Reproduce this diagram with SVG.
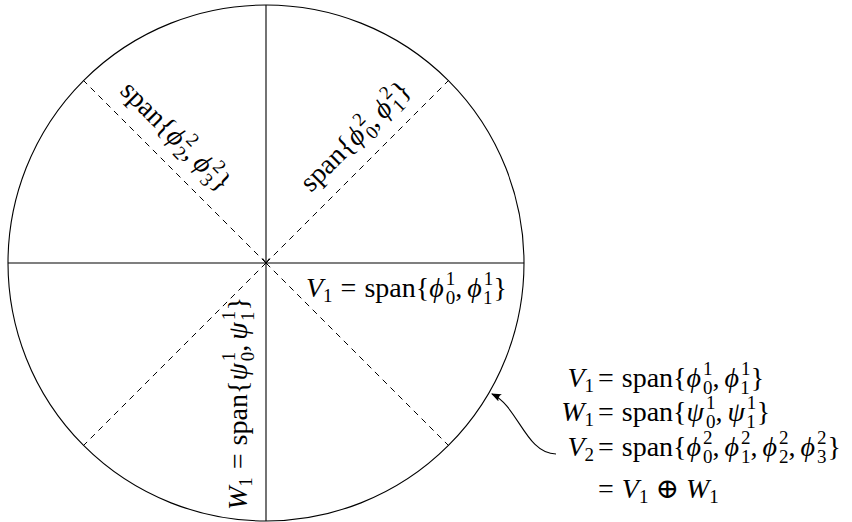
<svg xmlns="http://www.w3.org/2000/svg" width="852" height="522" viewBox="0 0 852 522">
<style>
.t{font-family:"Liberation Serif","DejaVu Serif",serif;font-size:28px;fill:#000}
.i{font-style:italic}
.s{font-size:19px}
.ln{stroke:#000;stroke-width:1.1;fill:none}
.dl{stroke:#000;stroke-width:1;stroke-dasharray:6 5;fill:none}
</style>
<defs>
<marker id="ah" viewBox="0 0 10 10" refX="9" refY="5" markerWidth="10" markerHeight="10" markerUnits="userSpaceOnUse" orient="auto">
<path d="M0,1 L10,5 L0,9 Q3,5 0,1 Z" fill="#000"/>
</marker>
</defs>
<rect width="852" height="522" fill="#fff"/>
<g id="circle">
<circle cx="266" cy="263" r="258" class="ln"/>
<line x1="266" y1="5" x2="266" y2="521" class="ln"/>
<line x1="8" y1="263" x2="524" y2="263" class="ln"/>
<path d="M262.5,258.5 L266,263 L269.5,258.5" class="ln"/>
</g>
<g id="diagonals">
<line x1="266" y1="263" x2="83.6" y2="80.6" class="dl"/>
<line x1="266" y1="263" x2="448.4" y2="80.6" class="dl"/>
<line x1="266" y1="263" x2="83.6" y2="445.4" class="dl"/>
<line x1="266" y1="263" x2="448.4" y2="445.4" class="dl"/>
</g>
<g id="label-v2-23">
<text class="t" transform="translate(119,92) rotate(45)">span{<tspan class="i">ϕ</tspan><tspan class="s" dx="2" dy="-12">2</tspan><tspan class="s" dx="-9.5" dy="18.5">2</tspan><tspan dy="-6.5">,</tspan><tspan class="i" dx="5">ϕ</tspan><tspan class="s" dx="2" dy="-12">2</tspan><tspan class="s" dx="-9.5" dy="18.5">3</tspan><tspan dx="1" dy="-6.5">}</tspan></text>
</g>
<g id="label-v2-01">
<text class="t" transform="translate(311,193) rotate(-45)">span{<tspan class="i">ϕ</tspan><tspan class="s" dx="2" dy="-12">2</tspan><tspan class="s" dx="-9.5" dy="18.5">0</tspan><tspan dy="-6.5">,</tspan><tspan class="i" dx="5">ϕ</tspan><tspan class="s" dx="2" dy="-12">2</tspan><tspan class="s" dx="-9.5" dy="18.5">1</tspan><tspan dx="1" dy="-6.5">}</tspan></text>
</g>
<g id="label-v1">
<text class="t" x="306" y="297"><tspan class="i">V</tspan><tspan class="s" dy="5">1</tspan><tspan dx="8" dy="-5">=</tspan><tspan dx="8">span{</tspan><tspan class="i">ϕ</tspan><tspan class="s" dx="2" dy="-12">1</tspan><tspan class="s" dx="-9.5" dy="18.5">0</tspan><tspan dy="-6.5">,</tspan><tspan class="i" dx="5">ϕ</tspan><tspan class="s" dx="2" dy="-12">1</tspan><tspan class="s" dx="-9.5" dy="18.5">1</tspan><tspan dx="1" dy="-6.5">}</tspan></text>
</g>
<g id="label-w1">
<text class="t" transform="translate(247,510) rotate(-90)"><tspan class="i">W</tspan><tspan class="s" dy="5">1</tspan><tspan dx="8" dy="-5">=</tspan><tspan dx="8">span{</tspan><tspan class="i">ψ</tspan><tspan class="s" dx="2" dy="-12">1</tspan><tspan class="s" dx="-9.5" dy="18.5">0</tspan><tspan dy="-6.5">,</tspan><tspan class="i" dx="5">ψ</tspan><tspan class="s" dx="2" dy="-12">1</tspan><tspan class="s" dx="-9.5" dy="18.5">1</tspan><tspan dx="1" dy="-6.5">}</tspan></text>
</g>
<g id="connectors">
<path d="M556,454 C526,454 518,406 492,394" class="ln" marker-end="url(#ah)"/>
</g>
<g id="equations">
<text class="t" x="594" y="387" text-anchor="end"><tspan class="i">V</tspan><tspan class="s" dy="5">1</tspan></text>
<text class="t" x="598" y="387">=<tspan dx="8">span{</tspan><tspan class="i">ϕ</tspan><tspan class="s" dx="2" dy="-12">1</tspan><tspan class="s" dx="-9.5" dy="18.5">0</tspan><tspan dy="-6.5">,</tspan><tspan class="i" dx="5">ϕ</tspan><tspan class="s" dx="2" dy="-12">1</tspan><tspan class="s" dx="-9.5" dy="18.5">1</tspan><tspan dx="1" dy="-6.5">}</tspan></text>
<text class="t" x="594" y="421" text-anchor="end"><tspan class="i">W</tspan><tspan class="s" dy="5">1</tspan></text>
<text class="t" x="598" y="421">=<tspan dx="8">span{</tspan><tspan class="i">ψ</tspan><tspan class="s" dx="2" dy="-12">1</tspan><tspan class="s" dx="-9.5" dy="18.5">0</tspan><tspan dy="-6.5">,</tspan><tspan class="i" dx="5">ψ</tspan><tspan class="s" dx="2" dy="-12">1</tspan><tspan class="s" dx="-9.5" dy="18.5">1</tspan><tspan dx="1" dy="-6.5">}</tspan></text>
<text class="t" x="594" y="456" text-anchor="end"><tspan class="i">V</tspan><tspan class="s" dy="5">2</tspan></text>
<text class="t" x="598" y="456">=<tspan dx="8">span{</tspan><tspan class="i">ϕ</tspan><tspan class="s" dx="2" dy="-12">2</tspan><tspan class="s" dx="-9.5" dy="18.5">0</tspan><tspan dy="-6.5">,</tspan><tspan class="i" dx="5">ϕ</tspan><tspan class="s" dx="2" dy="-12">2</tspan><tspan class="s" dx="-9.5" dy="18.5">1</tspan><tspan dy="-6.5">,</tspan><tspan class="i" dx="5">ϕ</tspan><tspan class="s" dx="2" dy="-12">2</tspan><tspan class="s" dx="-9.5" dy="18.5">2</tspan><tspan dy="-6.5">,</tspan><tspan class="i" dx="5">ϕ</tspan><tspan class="s" dx="2" dy="-12">2</tspan><tspan class="s" dx="-9.5" dy="18.5">3</tspan><tspan dx="1" dy="-6.5">}</tspan></text>
<text class="t" x="598" y="498">=<tspan dx="8" class="i">V</tspan><tspan class="s" dy="5">1</tspan><tspan dx="7" dy="-5" style="font-family:'DejaVu Serif',serif;font-weight:200">⊕</tspan><tspan dx="7" class="i">W</tspan><tspan class="s" dy="5">1</tspan></text>
</g>
</svg>
